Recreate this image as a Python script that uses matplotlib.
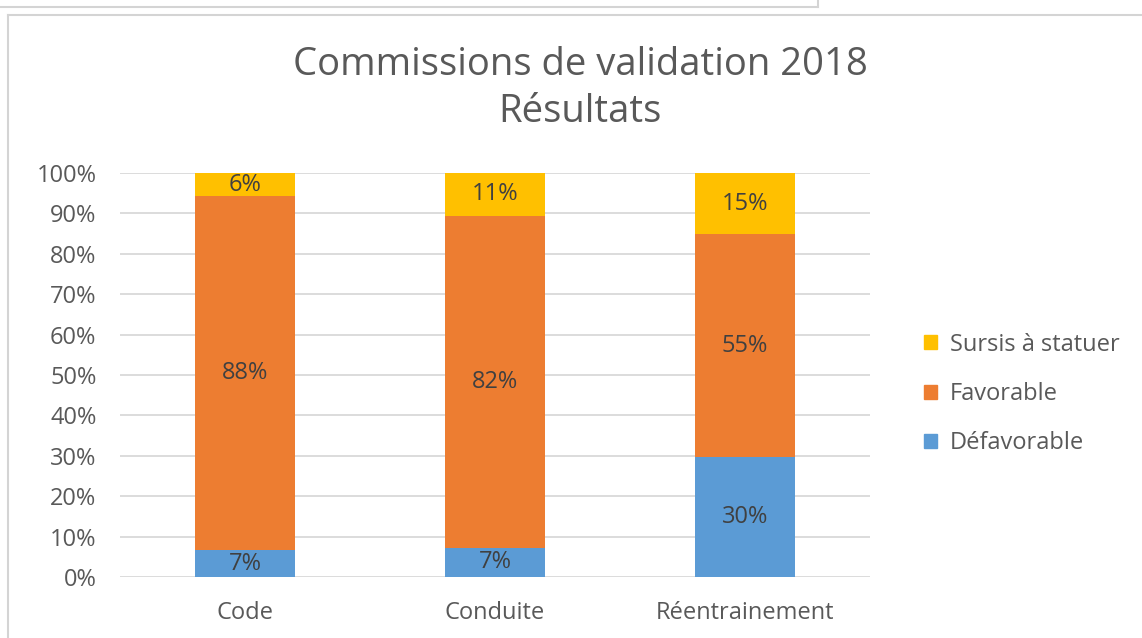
import matplotlib
matplotlib.use("Agg")
import matplotlib.pyplot as plt
from matplotlib.lines import Line2D
from matplotlib.patches import Patch
import numpy as np

# Données du graphique (en %)
categories = ["Code", "Conduite", "Réentrainement"]
defavorable = [6.6, 7.2, 29.7]
favorable = [87.7, 82.2, 55.2]
sursis = [5.7, 10.6, 15.1]

series_names = ["Défavorable", "Favorable", "Sursis à statuer"]
colors = ["#5B9BD5", "#ED7D31", "#FFC000"]

W, H = 1142, 638
plt.rcParams['font.family'] = ['Open Sans', 'DejaVu Sans']
FS = 17

fig = plt.figure(figsize=(W / 100, H / 100), dpi=100)
fig.patch.set_facecolor("white")

# Cadres gris (capture d'écran)
frame_col = "#D4D4D4"
fig.add_artist(Line2D([0, 818 / W], [1 - 7 / H, 1 - 7 / H], color=frame_col, lw=1.5))
fig.add_artist(Line2D([818 / W, 818 / W], [1, 1 - 7 / H], color=frame_col, lw=1.5))
fig.add_artist(Line2D([8 / W, 1], [1 - 15 / H, 1 - 15 / H], color=frame_col, lw=1.5))
fig.add_artist(Line2D([8 / W, 8 / W], [0, 1 - 15 / H], color=frame_col, lw=1.5))

ax = fig.add_axes([120 / W, 1 - 577 / H, 750 / W, 404 / H])

x = np.arange(len(categories))
width = 0.4
bottom = np.zeros(len(categories))
for name, vals, col in zip(series_names, [defavorable, favorable, sursis], colors):
    vals = np.array(vals)
    ax.bar(x, vals / 100, width, bottom=bottom / 100, color=col, zorder=3, label=name)
    for xi, b, v in zip(x, bottom, vals):
        ax.text(xi, (b + v / 2) / 100, f"{v:.0f}%", ha="center", va="center",
                fontsize=FS, color="#404040", zorder=4)
    bottom = bottom + vals

ax.set_xlim(-0.5, 2.5)
ax.set_ylim(0, 1)
ax.set_yticks(np.arange(0, 1.01, 0.1))
ax.set_yticklabels([f"{int(round(t * 100))}%" for t in np.arange(0, 1.01, 0.1)])
ax.set_xticks(x)
ax.set_xticklabels(categories)
ax.yaxis.grid(True, color="#D9D9D9", lw=1.3, zorder=0)
for s in ax.spines.values():
    s.set_visible(False)
ax.tick_params(axis="both", length=0, labelsize=FS, colors="#595959")
ax.tick_params(axis="y", pad=17)
ax.tick_params(axis="x", pad=17)

fig.text(580 / W, 1 - 65 / H, "Commissions de validation 2018", ha="center", va="center",
         fontsize=27.5, color="#595959")
fig.text(580 / W, 1 - 112 / H, "Résultats", ha="center", va="center",
         fontsize=27.5, color="#595959")

handles = [Patch(color=c) for c in colors[::-1]]
fig.legend(handles, series_names[::-1], loc="center left",
           bbox_to_anchor=(912 / W, 1 - 394 / H), frameon=False, fontsize=FS,
           handlelength=0.55, handleheight=0.55, handletextpad=0.55, labelspacing=1.07,
           labelcolor="#595959", borderpad=0)

fig.savefig("out.png", dpi=100, facecolor="white")
